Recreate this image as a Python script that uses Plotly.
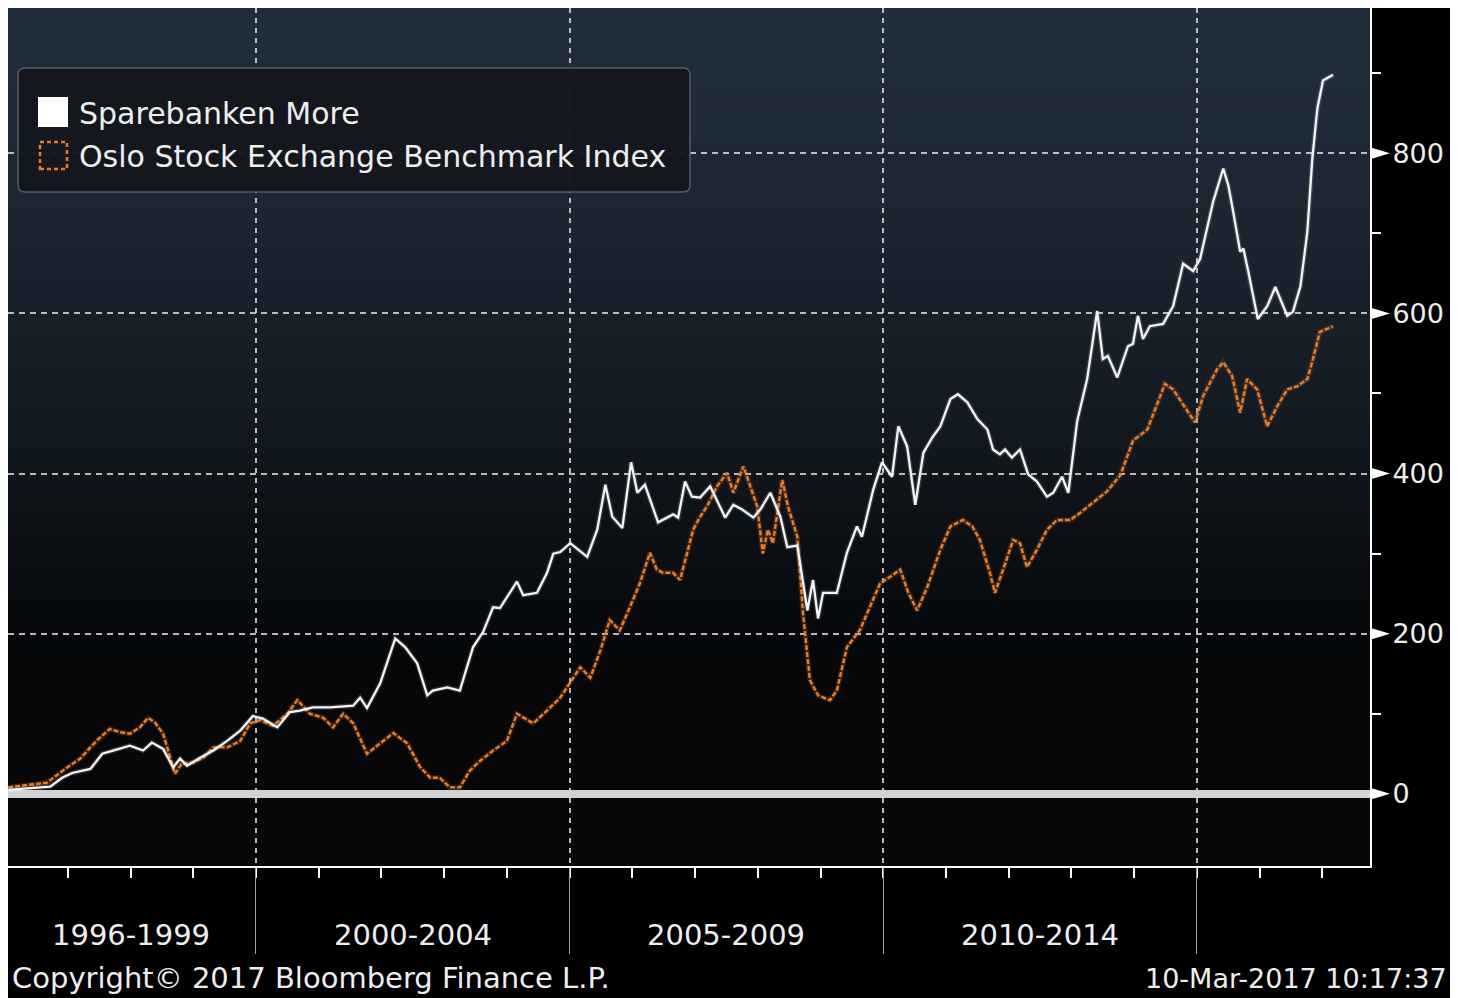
import plotly.graph_objects as go

# ---------------- data ----------------
series_names = ["Sparebanken More", "Oslo Stock Exchange Benchmark Index"]

more_years = [1996.05, 1996.24, 1996.61, 1996.72, 1996.91, 1997.07, 1997.36, 1997.55, 1997.72, 1997.99,
              1998.20, 1998.34, 1998.52, 1998.68, 1998.79, 1998.90, 1999.11, 1999.32, 1999.54, 1999.75,
              1999.95, 2000.11, 2000.34, 2000.54, 2000.70, 2000.91, 2001.18, 2001.55, 2001.66, 2001.77,
              2001.98, 2002.22, 2002.38, 2002.57, 2002.73, 2002.82, 2003.05, 2003.25, 2003.46, 2003.62,
              2003.78, 2003.89, 2004.16, 2004.26, 2004.48, 2004.64, 2004.74, 2004.85, 2005.01, 2005.28,
              2005.44, 2005.57, 2005.68, 2005.84, 2005.98, 2006.08, 2006.20, 2006.41, 2006.65, 2006.73,
              2006.84, 2006.95, 2007.08, 2007.24, 2007.48, 2007.61, 2007.75, 2007.93, 2008.04, 2008.20,
              2008.36, 2008.47, 2008.63, 2008.79, 2008.88, 2008.96, 2009.04, 2009.26, 2009.42, 2009.58,
              2009.66, 2009.84, 2009.98, 2010.14, 2010.24, 2010.38, 2010.51, 2010.64, 2010.79, 2010.91,
              2010.99, 2011.07, 2011.19, 2011.34, 2011.50, 2011.66, 2011.75, 2011.86, 2011.94, 2012.05,
              2012.18, 2012.31, 2012.45, 2012.61, 2012.71, 2012.85, 2012.95, 2013.09, 2013.25, 2013.41,
              2013.50, 2013.58, 2013.73, 2013.90, 2013.98, 2014.06, 2014.14, 2014.25, 2014.46, 2014.62,
              2014.78, 2014.94, 2015.05, 2015.26, 2015.42, 2015.50, 2015.56, 2015.69, 2015.74, 2015.82,
              2015.97, 2016.12, 2016.25, 2016.44, 2016.53, 2016.65, 2016.76, 2016.84, 2016.92, 2017.01,
              2017.17]
more_vals = [5, 6, 8, 9, 20, 26, 31, 50, 54, 60,
             54, 64, 56, 33, 44, 35, 45, 54, 66, 79,
             97, 94, 83, 102, 104, 108, 108, 110, 120, 107,
             138, 194, 183, 163, 123, 129, 133, 129, 183, 202,
             233, 232, 265, 248, 251, 276, 300, 302, 313, 296,
             330, 386, 346, 332, 414, 376, 386, 339, 349, 345,
             390, 371, 370, 384, 345, 361, 355, 345, 355, 376,
             346, 308, 310, 229, 267, 219, 251, 251, 301, 334,
             321, 380, 414, 396, 459, 434, 361, 426, 446, 459,
             476, 493, 499, 489, 468, 455, 430, 424, 430, 420,
             430, 399, 390, 371, 376, 396, 376, 465, 518, 603,
             543, 547, 520, 559, 562, 597, 568, 584, 587, 609,
             662, 653, 668, 740, 781, 760, 735, 677, 681, 652,
             593, 609, 633, 597, 602, 634, 702, 794, 856, 891,
             898]

osebx_years = [1996.05, 1996.24, 1996.45, 1996.67, 1996.99, 1997.20, 1997.36, 1997.51, 1997.67, 1997.83,
               1997.99, 1998.15, 1998.28, 1998.39, 1998.52, 1998.63, 1998.71, 1998.82, 1999.00, 1999.16,
               1999.32, 1999.54, 1999.75, 1999.91, 2000.07, 2000.27, 2000.50, 2000.66, 2000.86, 2001.07,
               2001.23, 2001.39, 2001.55, 2001.77, 2001.98, 2002.19, 2002.41, 2002.62, 2002.78, 2002.93,
               2003.09, 2003.25, 2003.41, 2003.57, 2003.78, 2004.00, 2004.16, 2004.42, 2004.64, 2004.85,
               2005.06, 2005.17, 2005.33, 2005.49, 2005.64, 2005.80, 2005.96, 2006.12, 2006.28, 2006.39,
               2006.49, 2006.65, 2006.76, 2006.87, 2006.97, 2007.08, 2007.19, 2007.35, 2007.51, 2007.61,
               2007.77, 2007.88, 2007.99, 2008.08, 2008.16, 2008.24, 2008.39, 2008.48, 2008.63, 2008.72,
               2008.83, 2008.96, 2009.15, 2009.26, 2009.42, 2009.63, 2009.95, 2010.11, 2010.27, 2010.40,
               2010.54, 2010.70, 2010.91, 2011.07, 2011.27, 2011.42, 2011.54, 2011.70, 2011.78, 2011.91,
               2012.07, 2012.18, 2012.29, 2012.45, 2012.61, 2012.77, 2012.98, 2013.14, 2013.35, 2013.57,
               2013.78, 2013.98, 2014.21, 2014.49, 2014.62, 2014.84, 2014.97, 2015.10, 2015.32, 2015.42,
               2015.56, 2015.69, 2015.80, 2015.96, 2016.12, 2016.28, 2016.44, 2016.60, 2016.76, 2016.85,
               2016.96, 2017.17]
osebx_vals = [8, 10, 12, 14, 33, 44, 58, 70, 81, 77,
              75, 83, 95, 89, 75, 45, 25, 38, 39, 45,
              58, 58, 66, 88, 92, 85, 100, 117, 100, 95,
              83, 100, 88, 50, 63, 76, 63, 33, 20, 20,
              8, 8, 29, 41, 54, 66, 100, 88, 104, 120,
              145, 158, 145, 179, 217, 204, 233, 263, 301, 280,
              276, 276, 267, 301, 330, 346, 359, 384, 401, 376,
              409, 384, 359, 300, 330, 313, 392, 359, 321, 226,
              142, 123, 117, 129, 183, 205, 263, 271, 280, 251,
              229, 258, 305, 334, 342, 334, 317, 276, 251, 280,
              317, 313, 283, 305, 330, 342, 342, 351, 364, 378,
              398, 441, 455, 512, 505, 480, 464, 497, 530, 539,
              522, 476, 518, 505, 459, 484, 505, 509, 518, 543,
              577, 584]

group_labels = ["1996-1999", "2000-2004", "2005-2009", "2010-2014"]
group_bounds = [2000, 2005, 2010, 2015]
year_ticks = list(range(1997, 2018))
y_major = [0, 200, 400, 600, 800]
y_minor = [100, 300, 500, 700, 900]
copyright_text = "Copyright\u00a9 2017 Bloomberg Finance L.P."
stamp_text = "10-Mar-2017 10:17:37"

# ---------------- geometry / style ----------------
# the page body adds an 8px white margin, so the figure sits at (8, 8)
OFF = 8
W, H = 1442, 990
L, R, T, B = 0, 80, 0, 132
PW, PH = W - L - R, H - T - B
FONT = "DejaVu Sans"
ORANGE = "#e97d2a"
TXT = "#eeeeee"


def px_x(px):  # page pixel -> paper x
    return (px - OFF - L) / PW


def px_y(py):  # page pixel -> paper y
    return (OFF + T + PH - py) / PH


fig = go.Figure()
fig.add_trace(go.Scatter(x=osebx_years, y=osebx_vals, mode="lines", hoverinfo="skip",
                         line=dict(color="rgba(233,125,42,0.2)", width=5), showlegend=False))
fig.add_trace(go.Scatter(x=osebx_years, y=osebx_vals, mode="lines", name=series_names[1],
                         line=dict(color=ORANGE, width=2.4, dash="5px,2px"), showlegend=False))
fig.add_trace(go.Scatter(x=more_years, y=more_vals, mode="lines", hoverinfo="skip",
                         line=dict(color="rgba(255,255,255,0.15)", width=5), showlegend=False))
fig.add_trace(go.Scatter(x=more_years, y=more_vals, mode="lines", name=series_names[0],
                         line=dict(color="#f4f4f4", width=2.3), showlegend=False))

shapes = []
# plot-area vertical gradient (navy at top -> black at bottom)
top_c, bot_c = (33, 45, 58), (5, 7, 9)
N = 90
for i in range(N):
    t = (i + 0.5) / N
    d = min(1.0, t * PH / 640.0)
    f = 1 - d ** 1.5
    c = tuple(int(round(b + (a - b) * f)) for a, b in zip(top_c, bot_c))
    shapes.append(dict(type="rect", xref="paper", yref="paper", x0=0, x1=1,
                       y0=1 - (i + 1) / N - 0.002, y1=1 - i / N, layer="below",
                       fillcolor="rgb(%d,%d,%d)" % c, line=dict(width=0)))

# right-pointing triangles marking the major y ticks
for v in y_major:
    shapes.append(dict(type="path", xref="paper", yref="y", xsizemode="pixel", ysizemode="pixel",
                       xanchor=1, yanchor=v, path="M 0,-6 L 20,0 L 0,6 Z",
                       fillcolor="white", line=dict(width=0), layer="above"))

# legend box (rounded), with symbols
hw, hh, r = 336, 62, 7
legend_path = ("M %d,%d L %d,%d Q %d,%d %d,%d L %d,%d Q %d,%d %d,%d L %d,%d Q %d,%d %d,%d "
               "L %d,%d Q %d,%d %d,%d Z") % (
    -hw + r, -hh, hw - r, -hh, hw, -hh, hw, -hh + r, hw, hh - r, hw, hh, hw - r, hh,
    -hw + r, hh, -hw, hh, -hw, hh - r, -hw, -hh + r, -hw, -hh, -hw + r, -hh)
shapes.append(dict(type="path", xref="paper", yref="paper", xsizemode="pixel", ysizemode="pixel",
                   xanchor=px_x(354), yanchor=px_y(130), path=legend_path,
                   fillcolor="rgba(20,24,29,0.96)", line=dict(color="#555b62", width=1.5), layer="above"))
shapes.append(dict(type="rect", xref="paper", yref="paper", x0=px_x(38), x1=px_x(68),
                   y0=px_y(127), y1=px_y(97), fillcolor="white", line=dict(width=0), layer="above"))
shapes.append(dict(type="rect", xref="paper", yref="paper", x0=px_x(40), x1=px_x(67),
                   y0=px_y(169), y1=px_y(142), fillcolor="rgba(0,0,0,0)",
                   line=dict(color=ORANGE, width=2.5, dash="4px,3px"), layer="above"))

annotations = []
for k, name in enumerate(series_names):
    annotations.append(dict(xref="paper", yref="paper", x=px_x(77), y=px_y(113 + 43 * k),
                            xanchor="left", yanchor="middle", text=name, showarrow=False,
                            font=dict(family=FONT, size=30, color=TXT)))
for lab in group_labels:
    a, b = lab.split("-")
    annotations.append(dict(xref="x", yref="paper", x=(int(a) + int(b) + 1) / 2.0, y=px_y(935),
                            xanchor="center", yanchor="middle", text=lab, showarrow=False,
                            font=dict(family=FONT, size=29, color=TXT)))
annotations.append(dict(xref="paper", yref="paper", x=px_x(10), y=px_y(978), xanchor="left",
                        yanchor="middle", text=copyright_text, showarrow=False,
                        font=dict(family=FONT, size=29, color=TXT)))
annotations.append(dict(xref="paper", yref="paper", x=px_x(1449), y=px_y(978), xanchor="right",
                        yanchor="middle", text=stamp_text, showarrow=False,
                        font=dict(family=FONT, size=27, color=TXT)))

GRID = "rgba(215,215,215,0.85)"
fig.update_layout(
    width=W, height=H,
    margin=dict(l=L, r=R, t=T, b=B, pad=0, autoexpand=False),
    paper_bgcolor="black", plot_bgcolor="#050709",
    font=dict(family=FONT, color=TXT),
    showlegend=False,
    shapes=shapes, annotations=annotations,
    xaxis=dict(range=[1996.047, 2017.759], tickmode="array", tickvals=group_bounds,
               ticks="outside", ticklen=86, tickwidth=1, tickcolor="#a0a0a0",
               showticklabels=False, showgrid=True, gridcolor=GRID, gridwidth=1.5,
               griddash="5px,5px", zeroline=False, showline=True, linecolor="white",
               linewidth=2,
               minor=dict(tickmode="array", tickvals=year_ticks, ticks="outside", ticklen=10,
                          tickwidth=2, tickcolor="white", showgrid=False)),
    yaxis=dict(side="right", range=[-90.2, 981.5], tickmode="array", tickvals=y_major,
               ticks="", ticklabelstandoff=15, tickfont=dict(family=FONT, size=27, color=TXT),
               showgrid=True, gridcolor=GRID, gridwidth=1.5, griddash="6px,5px",
               zeroline=True, zerolinecolor="#d3d3d3", zerolinewidth=8,
               showline=True, linecolor="white", linewidth=2,
               minor=dict(tickmode="array", tickvals=y_minor, ticks="outside", ticklen=9,
                          tickwidth=2, tickcolor="white", showgrid=False)),
)

fig.write_html("out.html")
